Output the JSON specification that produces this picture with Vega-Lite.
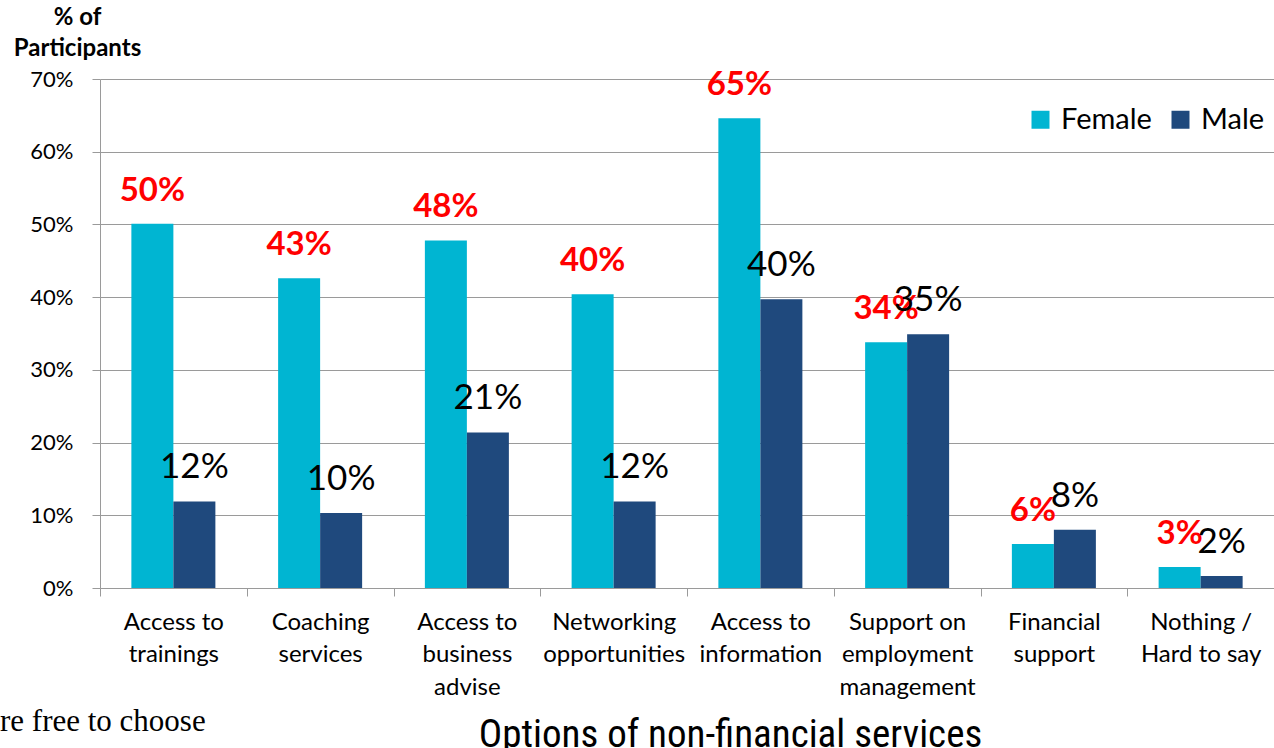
{
  "$schema": "https://vega.github.io/schema/vega-lite/v6.json",
  "width": 1174,
  "height": 509,
  "autosize": {"type": "none"},
  "padding": {"left": 100, "top": 79, "right": 0, "bottom": 160},
  "background": "white",
  "config": {"view": {"stroke": null}, "font": "Lato"},
  "title": {
    "text": "re free to choose",
    "orient": "bottom",
    "anchor": "start",
    "frame": "group",
    "dx": -100,
    "dy": -51,
    "font": "Liberation Serif",
    "fontSize": 31,
    "fontWeight": "normal",
    "color": "black"
  },
  "data": {
    "values": [
      {"option": "Access to\ntrainings", "gender": "Female", "pct": 0.501},
      {"option": "Access to\ntrainings", "gender": "Male", "pct": 0.119},
      {"option": "Coaching\nservices", "gender": "Female", "pct": 0.426},
      {"option": "Coaching\nservices", "gender": "Male", "pct": 0.103},
      {"option": "Access to\nbusiness\nadvise", "gender": "Female", "pct": 0.478},
      {"option": "Access to\nbusiness\nadvise", "gender": "Male", "pct": 0.214},
      {"option": "Networking\nopportunities", "gender": "Female", "pct": 0.404},
      {"option": "Networking\nopportunities", "gender": "Male", "pct": 0.119},
      {"option": "Access to\ninformation", "gender": "Female", "pct": 0.646},
      {"option": "Access to\ninformation", "gender": "Male", "pct": 0.397},
      {"option": "Support on\nemployment\nmanagement", "gender": "Female", "pct": 0.338},
      {"option": "Support on\nemployment\nmanagement", "gender": "Male", "pct": 0.349},
      {"option": "Financial\nsupport", "gender": "Female", "pct": 0.0605},
      {"option": "Financial\nsupport", "gender": "Male", "pct": 0.08},
      {"option": "Nothing /\nHard to say", "gender": "Female", "pct": 0.029},
      {"option": "Nothing /\nHard to say", "gender": "Male", "pct": 0.0165}
    ]
  },
  "encoding": {
    "x": {
      "field": "option",
      "type": "nominal",
      "sort": null,
      "scale": {"paddingInner": 0, "paddingOuter": 0},
      "axis": {
        "title": "Options of non-financial services",
        "titleFont": "Liberation Sans Narrow, Roboto Condensed, Roboto",
        "titleFontSize": 39,
        "titleFontWeight": "normal",
        "titleColor": "black",
        "titleX": 630,
        "titleY": 158,
        "titleBaseline": "alphabetic",
        "labelExpr": "datum.value ? split(datum.value, '\\n') : ''",
        "labelAngle": 0,
        "labelFontSize": 24,
        "labelLineHeight": 32.5,
        "labelColor": "black",
        "labelPadding": 14,
        "labelLimit": 300,
        "labelOverlap": false,
        "tickBand": "extent",
        "tickSize": 8,
        "tickColor": "#9a9a9a",
        "domainColor": "#9a9a9a",
        "grid": false
      }
    },
    "xOffset": {
      "field": "gender",
      "sort": ["Female", "Male"],
      "scale": {"paddingOuter": 0.747, "paddingInner": 0}
    },
    "y": {
      "field": "pct",
      "type": "quantitative",
      "scale": {"domain": [0, 0.7], "nice": false},
      "axis": {
        "values": [0, 0.1, 0.2, 0.3, 0.4, 0.5, 0.6, 0.7],
        "format": ".0%",
        "grid": true,
        "gridColor": "#9a9a9a",
        "gridWidth": 1,
        "tickSize": 8,
        "tickColor": "#9a9a9a",
        "domainColor": "#9a9a9a",
        "labelFontSize": 22,
        "labelColor": "black",
        "labelPadding": 19,
        "title": ["% of", "Participants"],
        "titleFontWeight": "bold",
        "titleFontSize": 24,
        "titleColor": "black",
        "titleAngle": 0,
        "titleX": -23,
        "titleY": -74,
        "titleBaseline": "top",
        "titleAlign": "center",
        "titleLineHeight": 31
      }
    }
  },
  "layer": [
    {
      "mark": {"type": "bar"},
      "encoding": {
        "color": {
          "field": "gender",
          "type": "nominal",
          "scale": {"domain": ["Female", "Male"], "range": ["#00B5D2", "#1F497D"]},
          "legend": {
            "title": null,
            "orient": "none",
            "legendX": 926,
            "legendY": 26,
            "padding": 0,
            "direction": "horizontal",
            "symbolType": "square",
            "symbolSize": 324,
            "symbolStrokeWidth": 0,
            "labelFontSize": 29,
            "labelColor": "black",
            "labelOffset": 6,
            "columnPadding": 14
          }
        }
      }
    },
    {
      "transform": [{"filter": "datum.gender === 'Female'"}],
      "mark": {"type": "text", "color": "#FF0000", "fontWeight": "bold", "fontSize": 33, "dy": -23, "baseline": "alphabetic"},
      "encoding": {"text": {"field": "pct", "type": "quantitative", "format": ".0%"}}
    },
    {
      "transform": [{"filter": "datum.gender === 'Male'"}],
      "mark": {"type": "text", "color": "black", "fontWeight": "normal", "fontSize": 35, "dy": -23, "baseline": "alphabetic"},
      "encoding": {"text": {"field": "pct", "type": "quantitative", "format": ".0%"}}
    }
  ]
}
